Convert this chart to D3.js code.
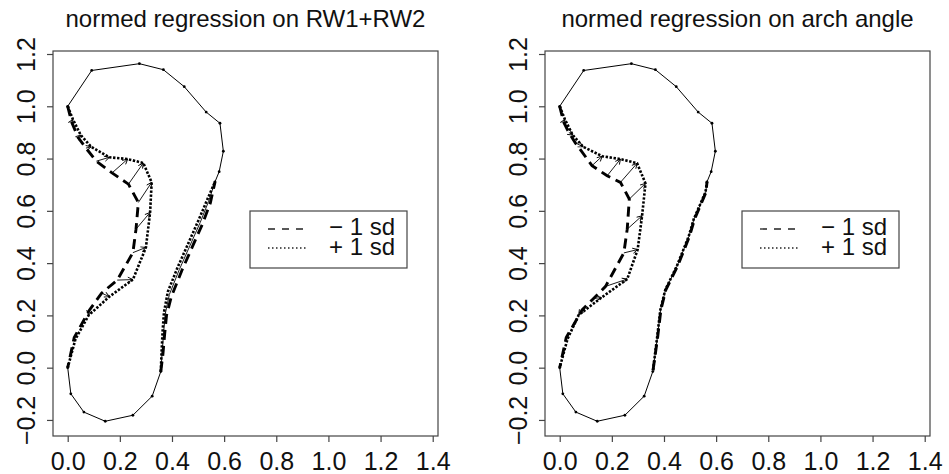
<!DOCTYPE html>
<html>
<head>
<meta charset="utf-8">
<script src="https://cdn.jsdelivr.net/npm/d3@7"></script>
<style>
  body { margin: 0; background: #fff; }
  svg { display: block; font-family: "Liberation Sans", Arial, sans-serif; }
</style>
</head>
<body>
<div id="chart"></div>
<script>
// tick values and labels
const xTicks = [0, 0.2, 0.4, 0.6, 0.8, 1.0, 1.2, 1.4];
const yTicks = [-0.2, 0, 0.2, 0.4, 0.6, 0.8, 1.0, 1.2];
const titles = ["normed regression on RW1+RW2", "normed regression on arch angle"];
const legendLabels = ["\u2212 1 sd", "+ 1 sd"];

// fixed part of the outline (mean shape), top loop and bottom loop
const outlineTop = [[0, 1.0], [0.092, 1.137], [0.275, 1.163], [0.367, 1.14], [0.447, 1.075],
  [0.531, 0.978], [0.584, 0.935], [0.597, 0.828], [0.581, 0.75], [0.565, 0.711]];
const outlineBottom = [[0.357, -0.015], [0.324, -0.109], [0.25, -0.182], [0.144, -0.205],
  [0.062, -0.17], [0.012, -0.1], [0, 0]];

// panel 1: RW1+RW2, inner notch and right edge
const notchMinus1 = [[0, 1.0], [0.015, 0.94], [0.04, 0.88], [0.07, 0.84], [0.11, 0.79], [0.17, 0.745],
  [0.233, 0.702], [0.271, 0.632], [0.262, 0.53], [0.25, 0.44], [0.19, 0.335], [0.13, 0.285],
  [0.083, 0.22], [0.025, 0.115], [0, 0]];
const notchPlus1 = [[0, 1.0], [0.02, 0.95], [0.05, 0.89], [0.09, 0.845], [0.16, 0.805], [0.23, 0.798],
  [0.29, 0.783], [0.322, 0.709], [0.316, 0.594], [0.30, 0.46], [0.25, 0.337], [0.16, 0.272],
  [0.08, 0.2], [0.03, 0.11], [0, 0]];
const edgeMinus1 = [[0.357, -0.015], [0.365, 0.05], [0.372, 0.13], [0.379, 0.2], [0.397, 0.27],
  [0.437, 0.37], [0.477, 0.46], [0.517, 0.55], [0.547, 0.63], [0.565, 0.711]];
const edgeMean1 = [[0.357, -0.015], [0.362, 0.055], [0.368, 0.135], [0.374, 0.205], [0.39, 0.28],
  [0.428, 0.375], [0.468, 0.465], [0.508, 0.555], [0.54, 0.635], [0.565, 0.711]];
const edgePlus1 = [[0.357, -0.015], [0.36, 0.06], [0.364, 0.14], [0.369, 0.21], [0.384, 0.29],
  [0.42, 0.38], [0.46, 0.47], [0.50, 0.56], [0.534, 0.64], [0.565, 0.711]];

// panel 2: arch angle
const notchMinus2 = [[0, 1.0], [0.015, 0.94], [0.035, 0.9], [0.06, 0.86], [0.124, 0.773], [0.182, 0.734],
  [0.233, 0.709], [0.267, 0.645], [0.259, 0.53], [0.246, 0.439], [0.176, 0.311], [0.13, 0.265],
  [0.086, 0.221], [0.025, 0.115], [0, 0]];
const notchPlus2 = [[0, 1.0], [0.02, 0.95], [0.05, 0.89], [0.09, 0.845], [0.163, 0.809], [0.233, 0.798],
  [0.297, 0.782], [0.329, 0.705], [0.316, 0.581], [0.299, 0.452], [0.259, 0.339], [0.16, 0.268],
  [0.073, 0.202], [0.03, 0.11], [0, 0]];
const edgeMinus2 = [[0.358, -0.01], [0.376, 0.119], [0.388, 0.221], [0.407, 0.298], [0.452, 0.388],
  [0.498, 0.503], [0.517, 0.568], [0.561, 0.671], [0.565, 0.711]];
const edgeMean2 = [[0.358, -0.01], [0.375, 0.119], [0.387, 0.221], [0.406, 0.298], [0.45, 0.388],
  [0.496, 0.503], [0.515, 0.568], [0.56, 0.671], [0.565, 0.711]];
const edgePlus2 = [[0.358, -0.01], [0.374, 0.119], [0.386, 0.221], [0.405, 0.298], [0.449, 0.388],
  [0.495, 0.503], [0.514, 0.568], [0.559, 0.671], [0.565, 0.711]];

const panels = [
  { title: titles[0], left: 53, notchMinus: notchMinus1, notchPlus: notchPlus1,
    edgeMinus: edgeMinus1, edgeMean: edgeMean1, edgePlus: edgePlus1 },
  { title: titles[1], left: 545, notchMinus: notchMinus2, notchPlus: notchPlus2,
    edgeMinus: edgeMinus2, edgeMean: edgeMean2, edgePlus: edgePlus2 }
];

const width = 949, height = 474;
const plotW = 385, plotTop = 51, plotBottom = 436;

const svg = d3.select("#chart").append("svg").attr("width", width).attr("height", height);

// small open arrowhead
svg.append("defs").append("marker")
  .attr("id", "head")
  .attr("viewBox", "-6 -4 8 8")
  .attr("markerWidth", 8).attr("markerHeight", 8)
  .attr("markerUnits", "userSpaceOnUse")
  .attr("refX", 0).attr("refY", 0)
  .attr("orient", "auto")
  .append("path")
  .attr("d", "M-5,-2.6L0,0L-5,2.6")
  .attr("fill", "none").attr("stroke", "#000").attr("stroke-width", 0.9);

panels.forEach(p => drawPanel(p));

function drawPanel(p) {
  const x = d3.scaleLinear().domain([-0.0564, 1.4203]).range([p.left, p.left + plotW]);
  const y = d3.scaleLinear().domain([-0.2614, 1.2115]).range([plotBottom, plotTop]);
  const g = svg.append("g");
  const line = d3.line().x(d => x(d[0])).y(d => y(d[1]));

  // title
  g.append("text")
    .attr("x", p.left + plotW / 2).attr("y", 27)
    .attr("text-anchor", "middle")
    .attr("font-size", 24).attr("fill", "#111")
    .text(p.title);

  // box
  g.append("rect")
    .attr("x", p.left).attr("y", plotTop)
    .attr("width", plotW).attr("height", plotBottom - plotTop)
    .attr("fill", "none").attr("stroke", "#444").attr("stroke-width", 1.2);

  // axes
  const xAxis = d3.axisBottom(x).tickValues(xTicks).tickSize(6).tickPadding(10)
    .tickFormat(d3.format(".1f"));
  const gx = g.append("g").attr("transform", `translate(0,${plotBottom})`).call(xAxis);
  gx.select(".domain").remove();
  gx.selectAll("line").attr("stroke", "#444").attr("stroke-width", 1.2);
  gx.selectAll("text").attr("font-size", 25).attr("fill", "#111")
    .attr("font-family", "Liberation Sans, Arial, sans-serif")
    .attr("dy", "0.71em");

  const yAxis = d3.axisLeft(y).tickValues(yTicks).tickSize(6)
    .tickFormat(d => d3.format(".1f")(d).replace("-", "\u2212"));
  const gy = g.append("g").attr("transform", `translate(${p.left},0)`).call(yAxis);
  gy.select(".domain").remove();
  gy.selectAll("line").attr("stroke", "#444").attr("stroke-width", 1.2);
  gy.selectAll("text")
    .attr("font-size", 25).attr("fill", "#111")
    .attr("font-family", "Liberation Sans, Arial, sans-serif")
    .attr("x", null).attr("dy", null)
    .attr("text-anchor", "middle")
    .attr("transform", "translate(-18.5,0) rotate(-90)");

  // fixed outline, thin solid with small points
  [outlineTop, outlineBottom].forEach(seg => {
    g.append("path").attr("d", line(seg))
      .attr("fill", "none").attr("stroke", "#000").attr("stroke-width", 1);
    g.selectAll(null).data(seg).enter().append("circle")
      .attr("cx", d => x(d[0])).attr("cy", d => y(d[1])).attr("r", 1.4).attr("fill", "#000");
  });

  // mean along the right edge
  g.append("path").attr("d", line(p.edgeMean))
    .attr("fill", "none").attr("stroke", "#000").attr("stroke-width", 0.9);

  // displacement arrows from -1 sd to +1 sd
  p.notchMinus.forEach((m, i) => {
    const q = p.notchPlus[i];
    const len = Math.hypot(x(q[0]) - x(m[0]), y(q[1]) - y(m[1]));
    if (len < 2) return;
    g.append("line")
      .attr("x1", x(m[0])).attr("y1", y(m[1]))
      .attr("x2", x(q[0])).attr("y2", y(q[1]))
      .attr("stroke", "#000").attr("stroke-width", 0.9)
      .attr("marker-end", "url(#head)");
  });

  // -1 sd dashed, +1 sd dotted
  [p.notchMinus, p.edgeMinus].forEach(seg => {
    g.append("path").attr("d", line(seg))
      .attr("fill", "none").attr("stroke", "#000").attr("stroke-width", 2.9)
      .attr("stroke-dasharray", "10 6");
  });
  [p.notchPlus, p.edgePlus].forEach(seg => {
    g.append("path").attr("d", line(seg))
      .attr("fill", "none").attr("stroke", "#000").attr("stroke-width", 2.6)
      .attr("stroke-dasharray", "2.4 1.6");
  });

  // legend
  const lx = p.left + 197, ly = 211;
  const lg = g.append("g").attr("transform", `translate(${lx},${ly})`);
  lg.append("rect").attr("width", 157).attr("height", 57)
    .attr("fill", "#fff").attr("stroke", "#444").attr("stroke-width", 1.2);
  const styles = [{ dash: "7 7", w: 1.3 }, { dash: "1.5 2.5", w: 1.3 }];
  legendLabels.forEach((lab, i) => {
    lg.append("line").attr("x1", 18).attr("x2", 56).attr("y1", 18 + i * 19).attr("y2", 18 + i * 19)
      .attr("stroke", "#222").attr("stroke-width", styles[i].w)
      .attr("stroke-dasharray", styles[i].dash);
    lg.append("text").attr("x", 79).attr("y", 24 + i * 20)
      .attr("font-size", 24).attr("fill", "#111").text(lab);
  });
}
</script>
</body>
</html>
